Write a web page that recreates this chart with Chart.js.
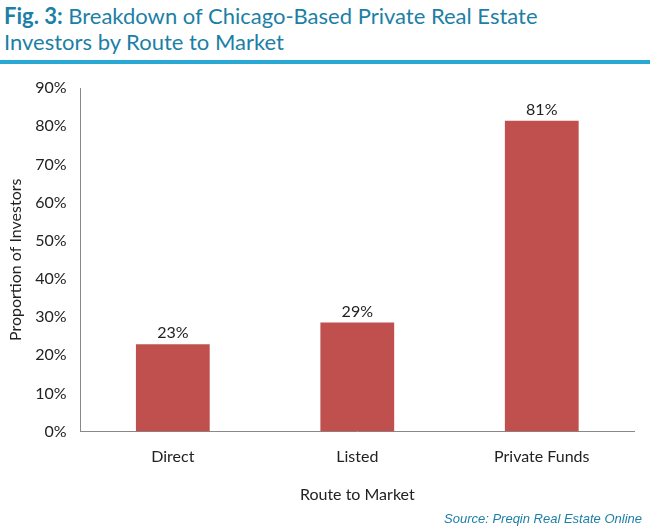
<!DOCTYPE html>
<html>
<head>
<meta charset="utf-8">
<script src="https://cdn.jsdelivr.net/npm/chart.js@4"></script>
<style>
  body { margin: 0; background: #fff; font-family: "Lato", "DejaVu Sans", sans-serif; }
  #wrap { position: relative; width: 650px; height: 532px; }
  #title { position: absolute; left: 4px; top: 3px; color: #1c7fa6; font-size: 22px; line-height: 26px; }
  #title b { font-weight: 700; }
  #rule { position: absolute; left: 0; top: 60px; width: 650px; height: 4px; background: #2aa8d4; }
  #box { position: absolute; left: 0; top: 72px; width: 646px; height: 440px; }
  #source { position: absolute; right: 8px; top: 511px; color: #1c7fa6; font-size: 13px; font-style: italic; font-family: "Liberation Sans", sans-serif; }
</style>
</head>
<body>
<div id="wrap">
  <div id="title"><b>Fig. 3:</b> Breakdown of Chicago-Based Private Real Estate<br>Investors by Route to Market</div>
  <div id="rule"></div>
  <div id="box"><canvas id="chart"></canvas></div>
  <div id="source">Source: Preqin Real Estate Online</div>
</div>
<script>
// route to market categories and share of investors (%)
const categories = ["Direct", "Listed", "Private Funds"];
const shares = [22.9, 28.6, 81.4];
const valueLabels = ["23%", "29%", "81%"];

const barLabels = {
    id: "barLabels",
    afterDatasetsDraw(chart) {
        const { ctx } = chart;
        const meta = chart.getDatasetMeta(0);
        ctx.save();
        ctx.fillStyle = "#222";
        ctx.font = "16px Lato, 'DejaVu Sans', sans-serif";
        ctx.textAlign = "center";
        ctx.textBaseline = "bottom";
        meta.data.forEach((bar, i) => {
            ctx.fillText(valueLabels[i], bar.x, bar.y - 3);
        });
        ctx.restore();
    }
};

new Chart(document.getElementById("chart"), {
    type: "bar",
    data: {
        labels: categories,
        datasets: [{
            data: shares,
            backgroundColor: "#c0504d",
            barPercentage: 0.4,
            categoryPercentage: 1
        }]
    },
    options: {
        responsive: true,
        maintainAspectRatio: false,
        animation: false,
        layout: { padding: { top: 16, right: 12, left: 2, bottom: 4 } },
        plugins: { legend: { display: false }, tooltip: { enabled: false } },
        scales: {
            x: {
                grid: { display: false },
                border: { color: "#888" },
                ticks: { color: "#222", font: { size: 16, family: "Lato" }, padding: 8 },
                title: { display: true, text: "Route to Market", color: "#222", font: { size: 16, family: "Lato" }, padding: { top: 10 } }
            },
            y: {
                min: 0,
                max: 90,
                grid: { display: false },
                border: { color: "#888" },
                ticks: { stepSize: 10, color: "#222", font: { size: 16, family: "Lato" }, padding: 6, callback: (v) => v + "%" },
                title: { display: true, text: "Proportion of Investors", color: "#222", font: { size: 16, family: "Lato" } }
            }
        }
    },
    plugins: [barLabels]
});
</script>
</body>
</html>
